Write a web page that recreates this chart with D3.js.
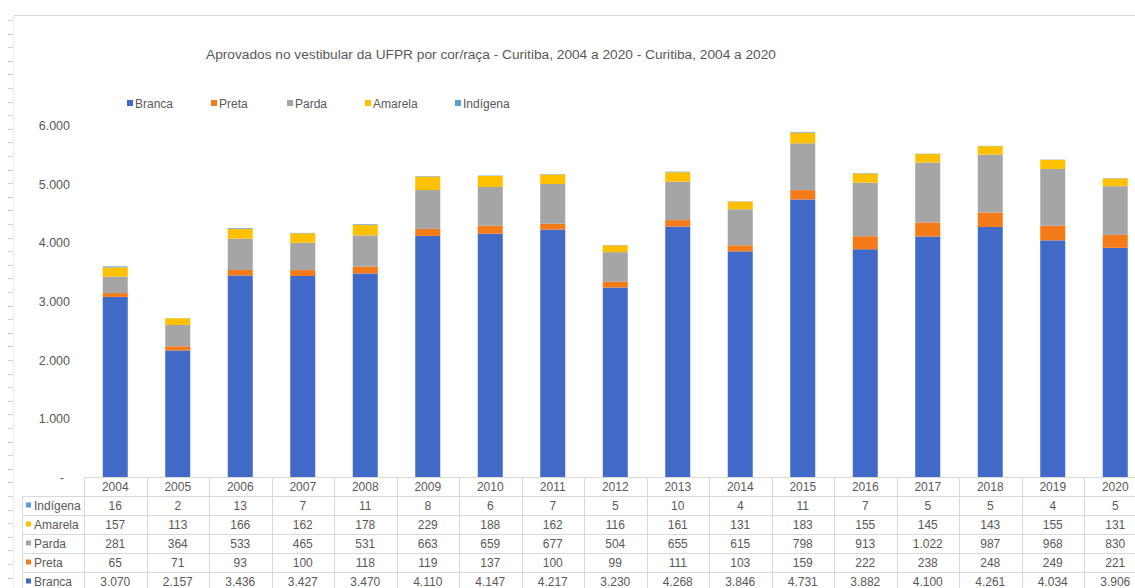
<!DOCTYPE html>
<html><head><meta charset="utf-8">
<script src="https://cdn.jsdelivr.net/npm/d3@7"></script>
<style>
html,body{margin:0;padding:0;background:#fff;}
svg{display:block;font-family:"Liberation Sans",Arial,sans-serif;}
</style></head>
<body>
<svg id="chart" width="1135" height="588"></svg>
<script>
const years = ["2004","2005","2006","2007","2008","2009","2010","2011","2012","2013","2014","2015","2016","2017","2018","2019","2020"];
const seriesNames = ["Branca","Preta","Parda","Amarela","Indígena"];
const branca  = [3070,2157,3436,3427,3470,4110,4147,4217,3230,4268,3846,4731,3882,4100,4261,4034,3906];
const preta   = [65,71,93,100,118,119,137,100,99,111,103,159,222,238,248,249,221];
const parda   = [281,364,533,465,531,663,659,677,504,655,615,798,913,1022,987,968,830];
const amarela = [157,113,166,162,178,229,188,162,116,161,131,183,155,145,143,155,131];
const indigena= [16,2,13,7,11,8,6,7,5,10,4,11,7,5,5,4,5];
const colors  = ["#4169C8","#F57A18","#A5A5A5","#FFC000","#5B9BD5"];
const yTicks  = [0,1000,2000,3000,4000,5000,6000];
const titleText = "Aprovados no vestibular da UFPR por cor/raça - Curitiba, 2004 a 2020 - Curitiba, 2004 a 2020";

const seriesValues = [branca, preta, parda, amarela, indigena];
const table = years.map((y,i)=>{ const o={year:y}; seriesNames.forEach((s,k)=>o[s]=seriesValues[k][i]); return o; });

const svg = d3.select("#chart");
const textColor = "#595959";
const fmt = v => v === 0 ? "-" : d3.format(",")(v).replace(/,/g,".");

// frame: top border + left ruler
svg.append("line").attr("x1",13).attr("x2",1135).attr("y1",15.5).attr("y2",15.5).attr("stroke","#d9d9d9");
svg.append("line").attr("x1",13.5).attr("x2",13.5).attr("y1",15).attr("y2",588).attr("stroke","#eeeeee");
for (let yy=20; yy<588; yy+=13.6) {
  svg.append("line").attr("x1",8).attr("x2",13).attr("y1",Math.round(yy)+0.5).attr("y2",Math.round(yy)+0.5).attr("stroke","#d0d0d0");
}

const x = d3.scaleBand().domain(years).range([84, 84+17*62.5]).paddingInner(0.6).paddingOuter(0.3);
const y = d3.scaleLinear().domain([0,6000]).range([477,125]);

// title
svg.append("text").attr("x",491).attr("y",59).attr("text-anchor","middle")
  .attr("font-size",13.7).attr("fill",textColor).text(titleText);

// legend
const legendX = [127,211,287,365,455];
seriesNames.forEach((s,k)=>{
  svg.append("rect").attr("x",legendX[k]).attr("y",100).attr("width",6).attr("height",6).attr("fill",colors[k]);
  svg.append("text").attr("x",legendX[k]+8).attr("y",108).attr("font-size",12).attr("fill",textColor).text(s);
});

// y axis labels
const yAxis = d3.axisLeft(y).tickValues(yTicks).tickSize(0).tickPadding(0).tickFormat(fmt);
const ga = svg.append("g").attr("transform","translate(70,0)").call(yAxis);
ga.select(".domain").remove();
ga.selectAll("text").attr("font-size",12.5).attr("fill",textColor).attr("font-family","Liberation Sans, Arial, sans-serif")
  .attr("dy","0.35em").attr("dx",d=>d===0?-6:0);

// stacked bars
const stack = d3.stack().keys(seriesNames)(table);
svg.append("g").selectAll("g").data(stack).join("g").attr("fill",(d,i)=>colors[i])
  .selectAll("rect").data(d=>d).join("rect")
  .attr("x",d=>x(d.data.year)).attr("width",x.bandwidth())
  .attr("y",d=>y(d[1])).attr("height",d=>Math.max(0,y(d[0])-y(d[1])));

// data table
const rowH = 19;
const tTop = 477;
const colStep = x.step();
const left0 = 84;
const grid = svg.append("g").attr("stroke","#d9d9d9").attr("stroke-width",1);
grid.append("line").attr("x1",left0).attr("x2",1135).attr("y1",tTop+0.5).attr("y2",tTop+0.5);
for (let r=1;r<=5;r++){
  grid.append("line").attr("x1",22).attr("x2",1135).attr("y1",tTop+r*rowH+0.5).attr("y2",tTop+r*rowH+0.5);
}
for (let c=0;c<=17;c++){
  const xx = Math.round(left0 + c*colStep)+0.5;
  grid.append("line").attr("x1",xx).attr("x2",xx).attr("y1",tTop).attr("y2",588);
}
grid.append("line").attr("x1",22.5).attr("x2",22.5).attr("y1",tTop+rowH).attr("y2",588);

// header years
svg.append("g").selectAll("text").data(years).join("text")
  .attr("x",d=>x(d)+x.bandwidth()/2).attr("y",tTop+rowH/2+4.5).attr("text-anchor","middle")
  .attr("font-size",12).attr("fill",textColor).text(d=>d);

// rows: top to bottom Indígena, Amarela, Parda, Preta, Branca
const rowOrder = [4,3,2,1,0];
rowOrder.forEach((k,r)=>{
  const cy = tTop + (r+1)*rowH + rowH/2;
  svg.append("rect").attr("x",26).attr("y",cy-3).attr("width",5).attr("height",5).attr("fill",colors[k]);
  svg.append("text").attr("x",34).attr("y",cy+4.5).attr("font-size",12).attr("fill",textColor).text(seriesNames[k]);
  svg.append("g").selectAll("text").data(table).join("text")
    .attr("x",d=>x(d.year)+x.bandwidth()/2).attr("y",cy+4.5).attr("text-anchor","middle")
    .attr("font-size",12).attr("fill",textColor).text(d=>fmt(d[seriesNames[k]]));
});
</script>
</body></html>
